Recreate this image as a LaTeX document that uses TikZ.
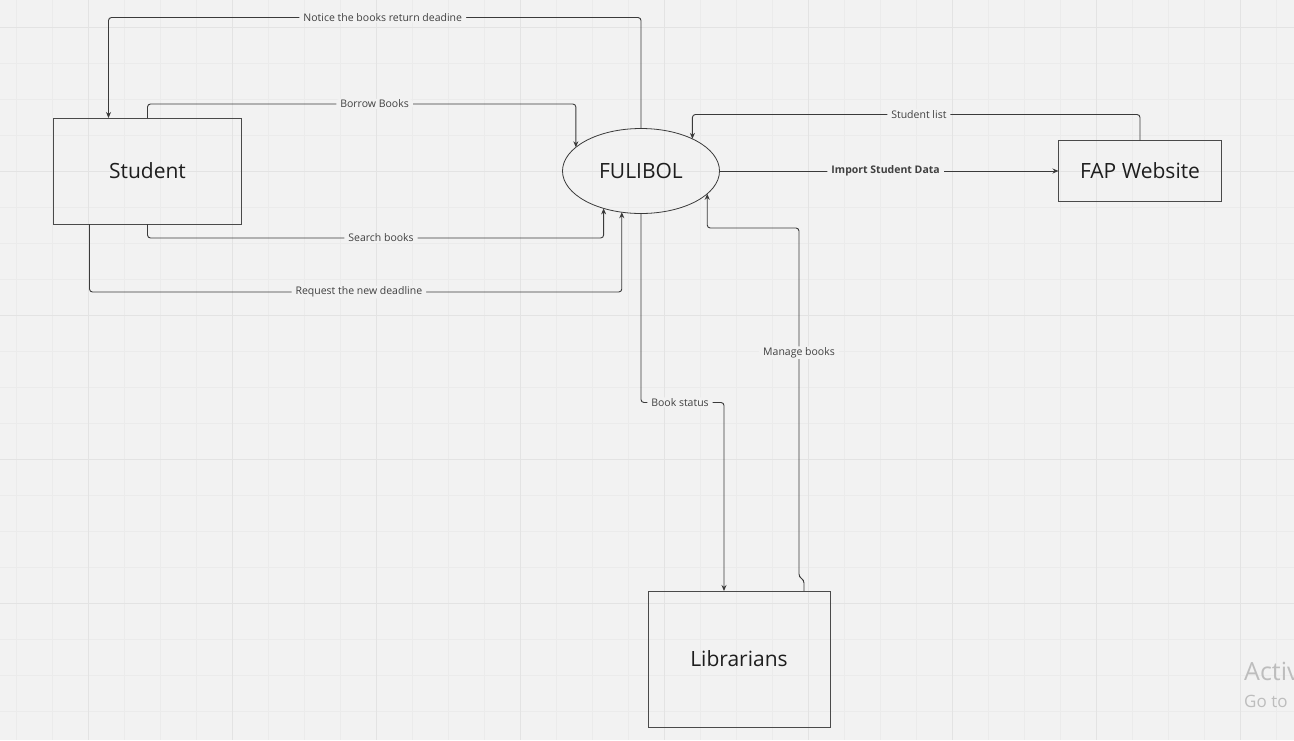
\documentclass[tikz,border=0pt]{standalone}
\usepackage{fontspec}
\setmainfont{Open Sans}
\usepackage{tikz}
\usetikzlibrary{shapes,arrows.meta,positioning}
\definecolor{canvasBg}{HTML}{F2F2F2}
\definecolor{gridMinor}{HTML}{EBEBEB}
\definecolor{gridMajor}{HTML}{E3E3E3}
\definecolor{inkLine}{HTML}{3A3A3A}
\definecolor{boxLine}{HTML}{4A4A4A}
\definecolor{inkText}{HTML}{1E1E1E}
\definecolor{wmGray}{HTML}{BDBDBD}

\begin{document}
\begin{tikzpicture}[x=1pt,y=-1pt,font=\fontsize{10.5}{12}\selectfont,
    >={Stealth[length=6pt,width=5pt]},
    entity/.style={rectangle,draw=boxLine,line width=0.95pt,inner sep=0pt,outer sep=0pt,text=inkText,font=\fontsize{21}{25}\selectfont},
    process/.style={ellipse,draw=inkLine,line width=0.8pt,inner sep=0pt,outer sep=0pt,text=inkText,font=\fontsize{21}{25}\selectfont},
    flow/.style={draw=inkLine,line width=0.9pt,rounded corners=3pt,->},
    lbl/.style={fill=canvasBg,text=inkText!85,inner xsep=4pt,inner ysep=1pt}]
    \useasboundingbox (0,0) rectangle (1294,740);
    \clip (0,0) rectangle (1294,740);
    % canvas grid
    \fill [canvasBg] (0,0) rectangle (1294,740);
    \foreach \gx in {16,52,...,1294} \draw [gridMinor,line width=0.8pt] (\gx,0) -- (\gx,740);
    \foreach \gy in {27,63,...,740} \draw [gridMinor,line width=0.8pt] (0,\gy) -- (1294,\gy);
    \foreach \gx in {88,232,...,1294} \draw [gridMajor,line width=1pt] (\gx,0) -- (\gx,740);
    \foreach \gy in {27,171,...,740} \draw [gridMajor,line width=1pt] (0,\gy) -- (1294,\gy);

    \node [process,minimum width=157pt,minimum height=85pt] (fulibol) at (641,171) {FULIBOL};
    \node [entity,minimum width=188pt,minimum height=106pt,left=321pt of fulibol] (student) {Student};
    \node [entity,minimum width=163pt,minimum height=61pt,right=339pt of fulibol] (fapWebsite) {FAP Website};
    \node [entity,minimum width=182pt,minimum height=136pt] (librarians) at (739,659) {Librarians};

    \draw [flow] (fulibol.north) -- ++(0,-111) -| node [lbl,pos=0.2425] (noticeLbl) {Notice the books return deadine} ([xshift=-39pt]student.north);
    \draw [flow] (student.north) -- ++(0,-14) -| node [lbl,pos=0.265] (borrowLbl) {Borrow Books} (fulibol.160.8);
    \draw [flow] (student.south) -- ++(0,14) -| node [lbl,pos=0.256] (searchLbl) {Search books} (fulibol.225.4);
    \draw [flow] ([xshift=-58pt]student.south) -- ++(0,68) -| node [lbl,pos=0.253] (requestLbl) {Request the new deadline} (fulibol.245.3);
    \draw [flow] (fapWebsite.north) -- ++(0,-26) -| node [lbl,pos=0.247] (studentListLbl) {Student list} (fulibol.32.35);
    \draw [flow] (fulibol.east) -- node [lbl,pos=0.49,font=\fontsize{10.5}{12}\selectfont\bfseries] (importLbl) {Import Student Data} (fapWebsite.west);
    \draw [flow] (fulibol.south) -- ++(0,189) -| node [lbl,pos=0.235] (bookStatusLbl) {Book status} ([xshift=-15pt]librarians.north);
    \draw [flow] ([xshift=65pt]librarians.north) -- ++(0,-11) -- ++(-5,-3) -- node [lbl,pos=0.643] (manageLbl) {Manage books} ++(0,-349) -| (fulibol.341.7);

    % screen watermark, cut by the right edge
    \node [anchor=west,text=wmGray,inner sep=0pt,font=\fontsize{25}{28}\selectfont] (wmActiv) at (1244,671) {Activ};
    \node [anchor=west,text=wmGray,inner sep=0pt,font=\fontsize{17}{20}\selectfont] (wmGoTo) at (1244,701) {Go to};
\end{tikzpicture}
\end{document}
